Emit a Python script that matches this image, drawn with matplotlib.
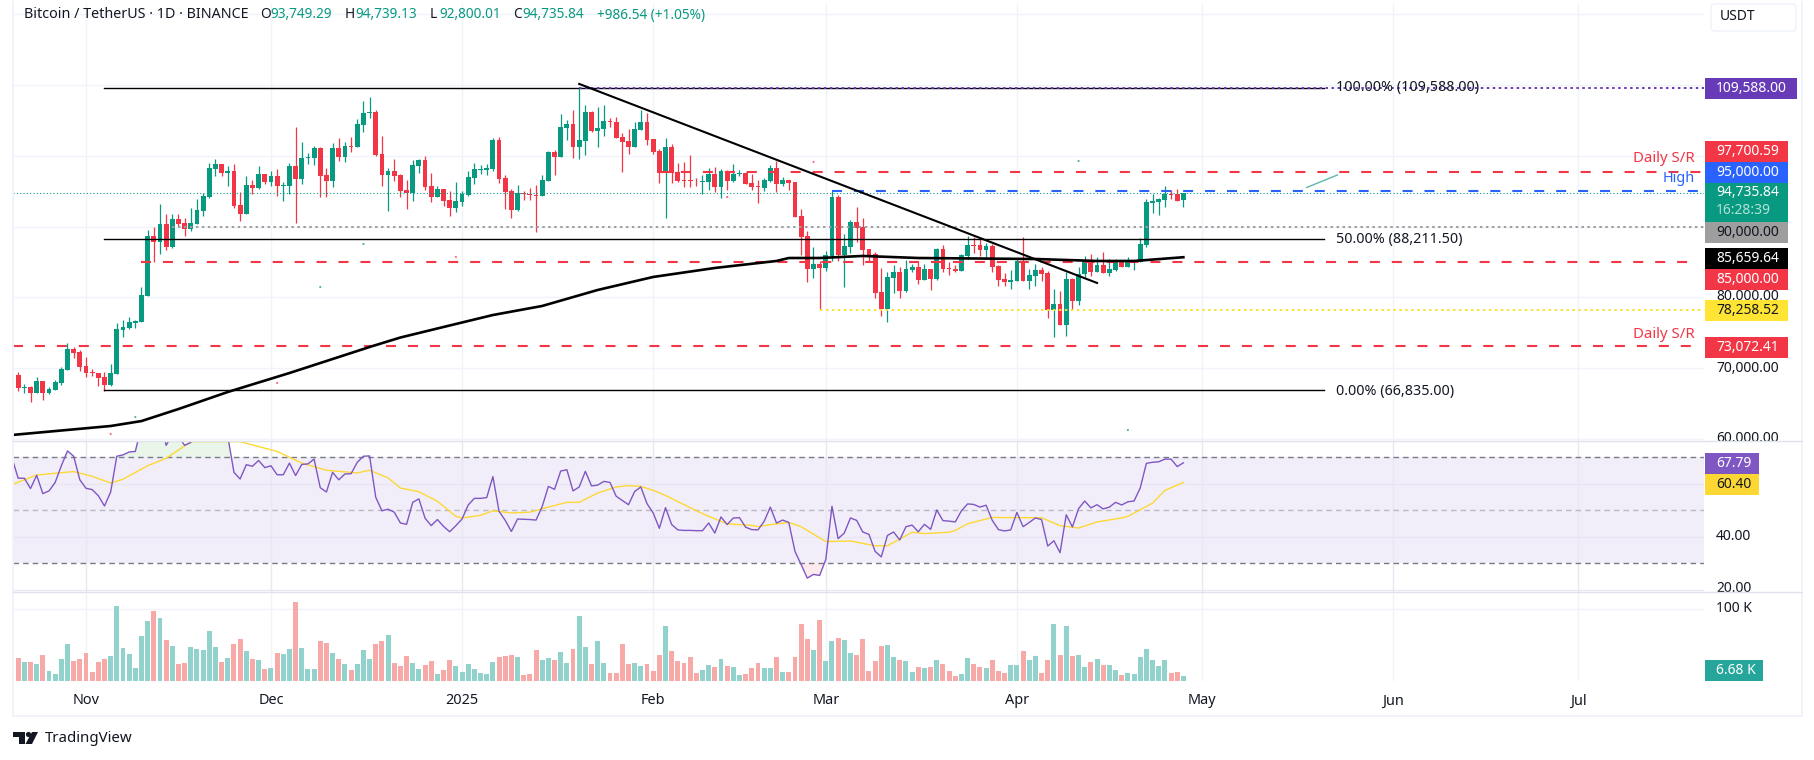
import numpy as np
import pandas as pd
import matplotlib
matplotlib.use('Agg')
import matplotlib.pyplot as plt
import matplotlib.dates as mdates
from matplotlib.patches import Rectangle, Polygon, Circle, FancyBboxPatch
from matplotlib.transforms import Bbox

plt.rcParams['font.family'] = ['Noto Sans', 'DejaVu Sans']
plt.rcParams['lines.scale_dashes'] = False

# daily candles from 2024-10-20 to 2025-04-28, in thousands of USDT
opens = [68.16,69.01,67.22,67.32,66.52,68.16,66.52,66.89,67.88,69.72,72.69,72.27,70.29,69.48,69.30,68.73,67.60,69.15,75.43,75.66,76.37,76.51,80.19,88.67,87.83,90.37,87.12,91.08,90.51,89.66,90.37,92.21,94.19,98.15,98.86,97.59,97.87,93.06,91.79,95.89,95.46,97.45,96.31,97.16,95.75,95.75,98.58,96.74,99.71,99.71,101.12,97.30,96.45,101.12,99.85,101.40,101.26,104.38,106.07,106.21,100.27,97.30,97.87,97.30,95.18,94.76,98.58,99.43,95.75,94.19,95.32,93.77,92.64,93.48,94.47,96.88,98.06,98.06,98.15,102.25,96.88,95.04,92.35,94.76,94.62,94.47,94.33,96.45,100.56,99.85,103.95,104.52,101.26,102.11,106.21,103.53,103.81,104.94,104.80,102.68,102.11,101.26,103.67,104.80,102.40,100.70,97.73,101.26,97.73,96.60,96.60,96.50,96.36,96.31,97.44,95.61,97.87,96.45,97.44,97.59,96.17,95.75,95.46,96.45,98.29,96.03,96.60,96.31,91.50,88.67,84.01,84.71,84.15,85.85,94.19,85.99,87.12,90.66,89.95,86.84,86.13,80.75,78.35,82.73,83.58,80.89,83.87,84.29,82.45,84.01,82.59,86.84,84.15,84.01,83.72,85.85,87.40,87.40,86.70,87.26,84.43,82.59,82.17,82.31,85.14,82.31,83.02,83.87,83.44,78.21,79.06,76.09,82.59,79.48,83.30,85.28,83.58,84.57,83.44,83.87,84.98,84.29,84.98,84.98,87.40,93.34,93.48,93.77,94.62,94.62,93.75]
highs = [69.10,69.44,67.74,67.46,68.73,68.16,67.32,68.31,70.14,73.54,72.97,72.55,71.56,69.86,69.30,69.44,70.57,76.37,76.79,77.22,76.79,81.46,89.52,89.95,93.20,91.79,91.79,91.79,91.22,92.64,93.91,94.76,99.00,99.57,98.86,98.58,98.86,94.90,97.16,96.60,98.58,97.45,97.87,98.15,96.31,99.00,104.09,101.97,100.41,101.40,101.26,98.29,101.83,102.54,101.97,102.68,105.22,107.77,108.34,106.50,102.82,98.29,99.57,97.44,96.60,99.43,99.57,99.99,97.59,95.75,95.32,95.04,96.31,95.04,97.87,99.00,98.72,98.86,102.54,102.68,97.30,95.32,95.89,95.04,95.46,95.89,97.30,100.70,100.84,105.93,105.06,106.50,109.60,107.20,106.36,106.92,107.20,105.37,105.51,103.24,103.81,104.80,106.50,106.07,102.40,100.98,102.54,101.69,99.00,99.14,100.13,96.88,97.30,98.29,98.44,98.15,98.01,98.86,98.01,97.73,97.44,96.60,96.88,98.72,99.28,97.02,96.60,96.31,92.49,89.38,87.12,85.14,86.55,95.04,94.47,88.96,90.94,92.78,91.22,86.84,86.41,84.15,83.58,84.57,84.29,85.28,84.71,85.00,84.71,84.01,86.98,87.40,85.00,84.57,86.13,88.67,88.53,88.25,87.69,87.54,84.57,83.44,83.87,85.56,88.53,84.01,84.71,84.29,83.72,81.18,80.89,83.58,82.73,84.29,85.85,86.13,85.70,86.41,85.42,85.42,85.28,85.70,85.14,88.39,93.91,94.62,94.05,95.75,95.18,95.32,94.74]
lows = [68.00,66.80,66.52,65.24,66.52,65.52,66.37,66.89,67.60,69.72,71.42,69.58,68.73,68.87,67.46,66.75,67.46,69.15,74.39,75.52,75.66,76.51,80.19,85.00,86.13,86.70,86.98,90.09,88.67,89.38,90.37,91.50,94.05,97.16,97.16,95.75,92.64,90.80,91.79,94.62,95.32,96.03,95.75,94.33,93.63,94.62,90.51,96.03,98.86,98.72,94.19,94.19,95.61,99.28,99.14,100.56,101.26,103.39,105.37,99.99,95.75,92.21,96.45,94.19,92.49,93.63,97.59,95.18,93.48,94.19,92.92,91.50,92.07,92.92,94.33,96.03,97.44,97.30,97.87,96.17,92.49,91.22,92.21,93.77,93.77,89.24,94.33,96.45,97.30,99.85,102.25,99.71,99.57,100.13,103.39,101.26,102.82,104.09,102.54,97.73,100.27,101.26,103.67,101.55,100.27,96.17,91.22,96.17,96.31,95.61,95.61,95.75,94.62,95.18,94.90,94.05,95.18,96.31,97.16,96.03,95.18,93.34,95.04,96.31,94.90,95.75,95.18,91.36,85.99,82.17,82.73,78.21,83.72,85.14,85.14,81.46,86.27,87.83,84.57,85.14,79.90,77.36,76.51,80.61,79.90,80.75,83.58,81.88,82.45,81.04,82.45,83.58,83.16,83.58,83.72,85.42,86.27,85.85,85.70,83.58,81.60,81.60,81.18,82.31,82.31,81.18,81.60,82.31,77.08,74.39,76.09,74.53,78.21,78.91,82.88,83.02,83.58,83.44,83.02,83.72,84.29,84.29,83.87,84.98,87.12,91.93,91.65,92.78,93.91,93.63,92.80]
closes = [69.01,67.22,67.32,66.52,68.16,66.52,67.03,68.02,69.86,72.69,72.13,70.14,69.30,69.34,68.59,67.60,69.30,75.52,75.80,76.51,76.65,80.33,88.67,87.83,90.37,87.12,91.08,90.37,89.66,90.51,92.35,94.33,98.29,98.86,97.59,97.87,92.92,91.79,95.89,95.46,97.45,96.31,97.16,95.75,95.89,98.58,96.74,99.71,99.85,101.12,97.16,96.45,101.12,99.85,101.40,101.26,104.52,106.07,106.21,100.13,97.30,97.87,97.16,95.04,94.76,98.72,99.43,95.61,94.19,95.32,93.63,92.64,93.63,94.62,97.02,98.15,98.15,98.29,102.25,96.74,94.90,92.35,94.76,94.62,94.47,94.33,96.60,100.56,99.85,104.09,104.52,101.26,102.25,106.21,103.53,103.95,104.94,104.80,102.54,101.97,101.26,103.81,104.80,102.25,100.56,97.59,101.26,97.59,96.45,96.50,96.50,96.41,96.45,97.44,95.61,97.87,96.45,97.44,97.59,96.03,95.61,95.61,96.60,98.29,96.03,96.60,96.17,91.36,88.53,84.01,84.71,84.15,85.99,94.19,85.99,87.26,90.66,89.81,86.70,85.99,80.61,78.35,82.88,83.58,80.89,84.01,84.29,82.45,84.01,82.59,86.84,84.01,84.01,83.72,85.99,87.40,87.26,86.70,87.26,84.29,82.45,82.17,82.45,85.14,82.31,83.16,83.87,83.30,78.21,79.06,76.09,82.59,79.48,83.30,85.28,83.58,84.57,83.44,84.01,84.98,84.29,84.98,85.14,87.54,93.48,93.63,93.91,94.62,94.47,93.63,94.74]

# volume, thousands of BTC
volumes = [13.6,31.8,26.2,26.2,23.4,36.0,13.6,9.3,30.4,51.4,27.6,30.4,38.8,12.1,26.2,30.4,34.6,104.7,45.8,37.4,17.8,62.6,83.6,97.7,87.9,57.0,48.6,23.4,24.8,47.2,44.4,43.0,69.6,47.2,26.2,31.8,51.4,58.4,41.6,30.4,29.0,16.4,17.8,38.8,37.4,44.4,110.3,45.8,16.4,16.4,55.6,52.8,38.8,30.4,23.4,15.0,23.4,43.0,30.4,51.4,55.6,64.0,24.8,20.6,34.6,24.8,16.4,22.0,27.6,9.3,15.0,29.0,20.6,12.1,23.4,16.4,10.7,9.3,26.2,33.2,34.6,36.0,33.2,7.9,9.3,43.0,29.0,31.8,29.0,40.2,24.8,44.4,90.7,47.2,23.4,55.6,24.8,10.7,10.7,51.4,23.4,24.8,20.6,23.4,13.6,36.0,76.6,41.6,27.6,24.8,33.2,10.7,15.0,22.0,19.2,30.4,20.6,19.2,7.9,9.3,17.8,24.8,17.8,17.8,33.2,12.1,12.1,33.2,79.4,58.4,43.0,85.0,27.6,55.6,59.8,57.0,38.8,36.0,58.4,13.6,27.6,48.6,50.0,33.2,29.0,27.6,12.1,19.2,17.8,19.2,29.0,23.4,13.6,6.5,9.3,31.8,23.4,19.2,17.8,29.0,13.6,10.7,22.0,22.0,41.6,29.0,34.6,10.7,29.0,79.4,36.0,76.6,34.6,36.0,19.2,26.2,30.4,22.0,22.0,15.0,7.9,10.7,9.3,33.2,44.4,29.0,20.6,29.0,10.7,12.1,6.68]

# rsi, one value per candle
rsi = [69.6,62.0,62.0,58.1,63.1,56.2,57.2,60.4,66.7,72.3,70.3,61.4,58.2,57.7,55.4,51.5,56.8,70.3,70.8,71.9,72.1,81.6,86.6,85.3,84.7,74.4,78.4,77.8,74.4,75.5,79.1,80.9,82.8,83.5,82.8,77.8,64.2,61.7,67.1,66.5,68.7,66.0,66.7,63.3,63.3,67.7,63.0,67.2,67.4,69.2,58.4,56.8,64.2,61.4,63.6,63.7,68.0,70.3,70.4,54.8,49.7,50.3,49.2,45.1,44.6,52.9,54.2,46.9,44.1,46.4,43.8,41.8,44.1,46.6,51.9,54.4,54.4,54.7,62.6,49.5,46.1,41.9,46.6,46.5,46.4,46.2,51.3,58.9,57.8,64.7,65.2,57.2,58.7,64.6,59.1,59.4,60.8,60.4,55.2,53.6,52.0,57.0,58.7,52.4,48.9,43.1,50.9,44.5,42.5,42.3,42.3,42.2,42.2,45.1,41.3,47.4,44.5,47.0,47.1,43.5,42.6,42.5,45.7,51.1,45.1,46.2,45.3,34.4,29.4,24.3,25.7,25.3,31.3,51.4,39.2,41.3,47.0,46.1,41.7,40.8,34.4,32.3,40.4,41.7,38.7,43.7,44.3,41.8,44.6,42.7,50.0,46.0,45.8,45.5,49.7,52.3,52.1,51.1,51.8,46.1,42.6,42.1,42.5,49.1,43.7,45.3,47.0,46.4,36.4,38.4,33.9,48.2,43.6,50.5,53.4,50.8,52.0,50.4,51.1,52.9,51.9,53.1,53.4,58.3,67.6,68.0,68.2,69.2,69.2,66.4,67.79]

# rsi moving average and 200 day average, read at these days after 2024-11-01
rsi_ma_days = [-12,-8,-4,-2,1,4,6,10,13,17,25,31,35,39,44,46,49,51,54,57,60,61,64,66,69,72,75,78,80,83,86,88,90,92,94,99,101,104,108,109,111,114,116,120,124,128,130,134,136,140,141,143,147,151,155,158,161,164,168,169,173,175,178]
rsi_ma = [59.6,63.2,64.1,64.5,62.7,60.2,61.6,66.7,69.5,75.8,75.8,72.1,67.7,65.0,64.0,65.0,62.1,58.3,56.9,53.3,47.6,47.0,48.0,49.7,48.9,49.2,51.1,52.9,52.9,56.4,58.7,59.2,58.9,57.4,55.5,49.7,47.6,44.8,44.2,43.7,44.5,45.3,43.7,38.1,38.3,36.5,36.5,41.6,41.1,41.6,42.3,44.8,47.2,47.1,47.1,44.1,43.2,45.5,47.0,47.6,52.6,57.4,60.40]
sma_days = [-12,4,9,15,23,33,40,46,51,58,66,74,83,92,102,112,114,119,126,135,154,164,170,178]
sma = [60.53,61.80,62.50,64.20,66.61,69.29,71.27,72.97,74.31,75.80,77.49,78.77,81.03,82.87,84.14,85.13,85.55,85.55,85.84,85.55,85.41,85.13,85.13,85.66]

# stray specks left on the price pane
speck_days = [45,38,31,8,4,60,104,118,161,169]
speck_price = [87.53,81.45,67.88,63.07,60.67,85.70,94.18,99.13,99.27,61.23]
speck_up = [True,True,False,True,False,False,False,False,True,True]

GREEN = '#089981'
RED = '#f23645'
BLUE = '#2962ff'
PURPLE = '#673ab7'
YELLOW = '#fbe233'
GRID = '#f0f3fa'
TEXT = '#131722'

day0 = mdates.date2num(pd.Timestamp('2024-11-01'))
dates = day0 + np.arange(-12, 179)
opens = np.array(opens)
highs = np.array(highs)
lows = np.array(lows)
closes = np.array(closes)
up = closes >= opens

W, H = 1814, 760
fig = plt.figure(figsize=(W/100, H/100), dpi=100, facecolor='white')

# panes are placed in pixels
def pane(y0, y1):
	ax = fig.add_axes([13/W, 1-y1/H, (1704-13)/W, (y1-y0)/H])
	ax.set_xlim(day0-11.84, day0+262.45)
	for s in ax.spines.values():
		s.set_visible(False)
	ax.set_yticks([])
	ax.set_xticks([day0+d for d in [0,30,61,92,120,151,181,212,242]])
	ax.tick_params(length=0, labelbottom=False)
	ax.grid(axis='x', color=GRID, lw=1)
	ax.set_axisbelow(True)
	return ax

ax = pane(3, 441)
ax.set_ylim(59.68, 121.6)
for p in [60,70,80,90,100,110,120]:
	ax.axhline(p, color=GRID, lw=1, zorder=0)

# candles
ax.vlines(dates[up], lows[up], highs[up], color=GREEN, lw=0.9, zorder=2)
ax.vlines(dates[~up], lows[~up], highs[~up], color=RED, lw=0.9, zorder=2)
ax.bar(dates[up], closes[up]-opens[up], bottom=opens[up], width=0.78, color=GREEN, lw=0, zorder=3)
ax.bar(dates[~up], closes[~up]-opens[~up], bottom=opens[~up], width=0.78, color=RED, lw=0, zorder=3)

# fib levels and trendline
fib_x = [day0+3, day0+200.8]
for level in [109.588, 88.2115, 66.835]:
	ax.plot(fib_x, [level, level], color='black', lw=1.0, zorder=5)
ax.plot([day0+80, day0+164], [110.16, 82.02], color='black', lw=1.5, zorder=7)
ax.plot(day0+np.array(sma_days), sma, color='black', lw=1.9, zorder=7)
ax.plot([day0+198, day0+203], [95.52, 97.29], color='#5fb8a8', lw=1.0, zorder=5)

dash = (0, (7.2, 8.6))
dots = (0, (1.8, 2.5))
right = day0+262.45
ax.plot([day0+80, right], [109.588, 109.588], color=PURPLE, lw=1.4, ls=dots, zorder=6)
ax.plot([day0+93, right], [97.70059, 97.70059], color=RED, lw=1.5, ls=dash, zorder=5)
ax.plot([day0+121, right], [95.0, 95.0], color=BLUE, lw=1.5, ls=dash, zorder=5)
ax.plot([day0-11.84, right], [94.73584, 94.73584], color=GREEN, lw=0.8, ls=(0, (0.8, 1.6)), zorder=4)
ax.plot([day0+14, right], [90.0, 90.0], color='#9e9e9e', lw=1.4, ls=dots, zorder=5)
ax.plot([day0+9, day0+260.5], [85.0, 85.0], color=RED, lw=1.5, ls=dash, zorder=5)
ax.plot([day0+119, right], [78.25852, 78.25852], color=YELLOW, lw=1.4, ls=dots, zorder=5)
ax.plot([day0-11.84, day0+261], [73.07241, 73.07241], color=RED, lw=1.5, ls=dash, zorder=5)
speck_colors = [GREEN if s else RED for s in speck_up]
ax.scatter(day0+np.array(speck_days), speck_price, s=2.5, c=speck_colors, lw=0, alpha=0.7, zorder=2)

# rsi pane
ax_rsi = pane(441, 592)
ax_rsi.set_ylim(19.06, 76.04)
ax_rsi.axhspan(30, 70, color='#f2eef9', lw=0, zorder=0)
ax_rsi.grid(axis='x', color='#e9e8f2', lw=1)
for p in [20,40,60]:
	ax_rsi.axhline(p, color='#e8e6f2', lw=1, zorder=1)
ax_rsi.axhline(70, color='#787b86', lw=1, ls=(0, (4.0, 2.9)), zorder=2)
ax_rsi.axhline(30, color='#787b86', lw=1, ls=(0, (4.0, 2.9)), zorder=2)
ax_rsi.axhline(50, color='#b9b8c2', lw=1, ls=(0, (4.0, 2.9)), zorder=2)
rsi = np.array(rsi)
ax_rsi.fill_between(dates, 70, rsi, where=rsi > 70, interpolate=True, color='#4caf50', alpha=0.12, lw=0, zorder=2)
ax_rsi.fill_between(dates, 30, rsi, where=rsi < 30, interpolate=True, color='#f23645', alpha=0.1, lw=0, zorder=2)
ax_rsi.plot(day0+np.array(rsi_ma_days), rsi_ma, color='#fdd835', lw=1.0, zorder=3)
ax_rsi.plot(dates, rsi, color='#7e57c2', lw=1.0, zorder=4)

# volume pane
ax_vol = pane(592, 681)
ax_vol.set_ylim(0, 124.1)
ax_vol.axhline(100, color=GRID, lw=1, zorder=0)
vol_colors = ['#92d2cc' if u else '#f7a9a7' for u in up]
ax_vol.bar(dates, volumes, width=0.8, color=vol_colors, lw=0, zorder=2)
ax_vol.set_xticklabels(['Nov','Dec','2025','Feb','Mar','Apr','May','Jun','Jul'])
ax_vol.tick_params(labelbottom=True, labelsize=10.4, labelcolor=TEXT, pad=9)
ax_vol.get_xticklabels()[2].set_fontweight('bold')

# everything around the panes goes on a full figure overlay in pixels
ov = fig.add_axes([0, 0, 1, 1], zorder=20)
ov.set_xlim(0, W)
ov.set_ylim(H, 0)
ov.axis('off')

ov.plot([12.5, 12.5], [2, 716], color=GRID, lw=1.4)
ov.plot([1802, 1802], [2, 716], color=GRID, lw=1.4)
ov.plot([12.5, 1802], [716, 716], color=GRID, lw=1.4)
ov.plot([13, 1802], [441, 441], color='#e0e3eb', lw=1)
ov.plot([13, 1802], [592, 592], color='#e0e3eb', lw=1)

# header
ov.text(24, 15, 'Bitcoin / TetherUS · 1D · BINANCE', color=TEXT, fontsize=10.3, va='center', ha='left')
header = [(260, 'O', TEXT), (270, '93,749.29', GREEN),
	(345, 'H', TEXT), (355, '94,739.13', GREEN), (430, 'L', TEXT), (439, '92,800.01', GREEN),
	(513, 'C', TEXT), (522, '94,735.84', GREEN), (597, '+986.54 (+1.05%)', GREEN)]
for x, s, c in header:
	ov.text(x, 15, s, color=c, fontsize=9.8, va='center', ha='left')

# right scale ticks, cut off where a pane ends
def tick(y, s, top=0, bottom=H):
	t = ov.text(1716, y, s, color=TEXT, fontsize=10, va='center', ha='left', zorder=1)
	t.set_clip_box(Bbox([[1704, H-bottom], [1810, H-top]]))
	t.set_clip_on(True)

tick(296, '80,000.00')
tick(368, '70,000.00')
tick(439, '60,000.00', bottom=441)
tick(537, '40.00')
tick(589, '20.00', bottom=592)
tick(609, '100 K')

# price tags
def tag(y0, y1, s, fc, tc='white', x1=1788):
	ov.add_patch(Rectangle((1705, y0), x1-1705, y1-y0, fc=fc, ec='none', zorder=3))
	ov.text(1716, (y0+y1)/2, s, color=tc, fontsize=10, va='center', ha='left', zorder=4)

tag(78, 99, '109,588.00', '#673ab7', x1=1797)
tag(141, 162, '97,700.59', RED)
tag(162, 183, '95,000.00', BLUE)
tag(183, 222, '', GREEN)
ov.text(1716, 193, '94,735.84', color='white', fontsize=10, va='center', zorder=4)
ov.text(1716, 211, '16:28:39', color='#b5e0d8', fontsize=10, va='center', zorder=4)
tag(222, 243, '90,000.00', '#9e9e9e', tc=TEXT)
tag(248, 269, '85,659.64', 'black')
tag(269, 290, '85,000.00', RED)
tag(300, 321, '78,258.52', '#ffe433', tc=TEXT)
tag(337, 358, '73,072.41', RED)
tag(453, 474, '67.79', '#7e57c2', x1=1759)
tag(474, 495, '60.40', '#fdd835', tc=TEXT, x1=1759)
tag(660, 681, '6.68 K', '#26a69a', x1=1763)

# USDT box
ov.add_patch(FancyBboxPatch((1711, 4), 85, 27, boxstyle='round,pad=0,rounding_size=4', fc='white', ec='#f0f3fa', lw=1.2))
ov.text(1720, 17, 'USDT', color=TEXT, fontsize=10, va='center', ha='left')

# line labels
for y, s, c, size in [(159, 'Daily S/R', RED, 10.8), (178, 'High', BLUE, 10.4), (334, 'Daily S/R', RED, 10.8)]:
	ov.text(1695, y, s, color=c, fontsize=size, va='center', ha='right')
for y, s in [(87, '100.00% (109,588.00)'), (239, '50.00% (88,211.50)'), (391, '0.00% (66,835.00)')]:
	ov.text(1336, y, s, color=TEXT, fontsize=10.3, va='center', ha='left')

# TradingView mark
logo = [Polygon([[13,732],[25,732],[25,744],[19,744],[19,737],[13,737]], fc=TEXT, ec='none'),
	Circle((28.5,734.5), 2.6, fc=TEXT, ec='none'),
	Polygon([[32,732],[38,732],[32,744],[25.5,744]], fc=TEXT, ec='none')]
for patch in logo:
	ov.add_patch(patch)
ov.text(45, 738, 'TradingView', color=TEXT, fontsize=10.8, va='center', ha='left')

fig.savefig('out.png', dpi=100, facecolor='white')
